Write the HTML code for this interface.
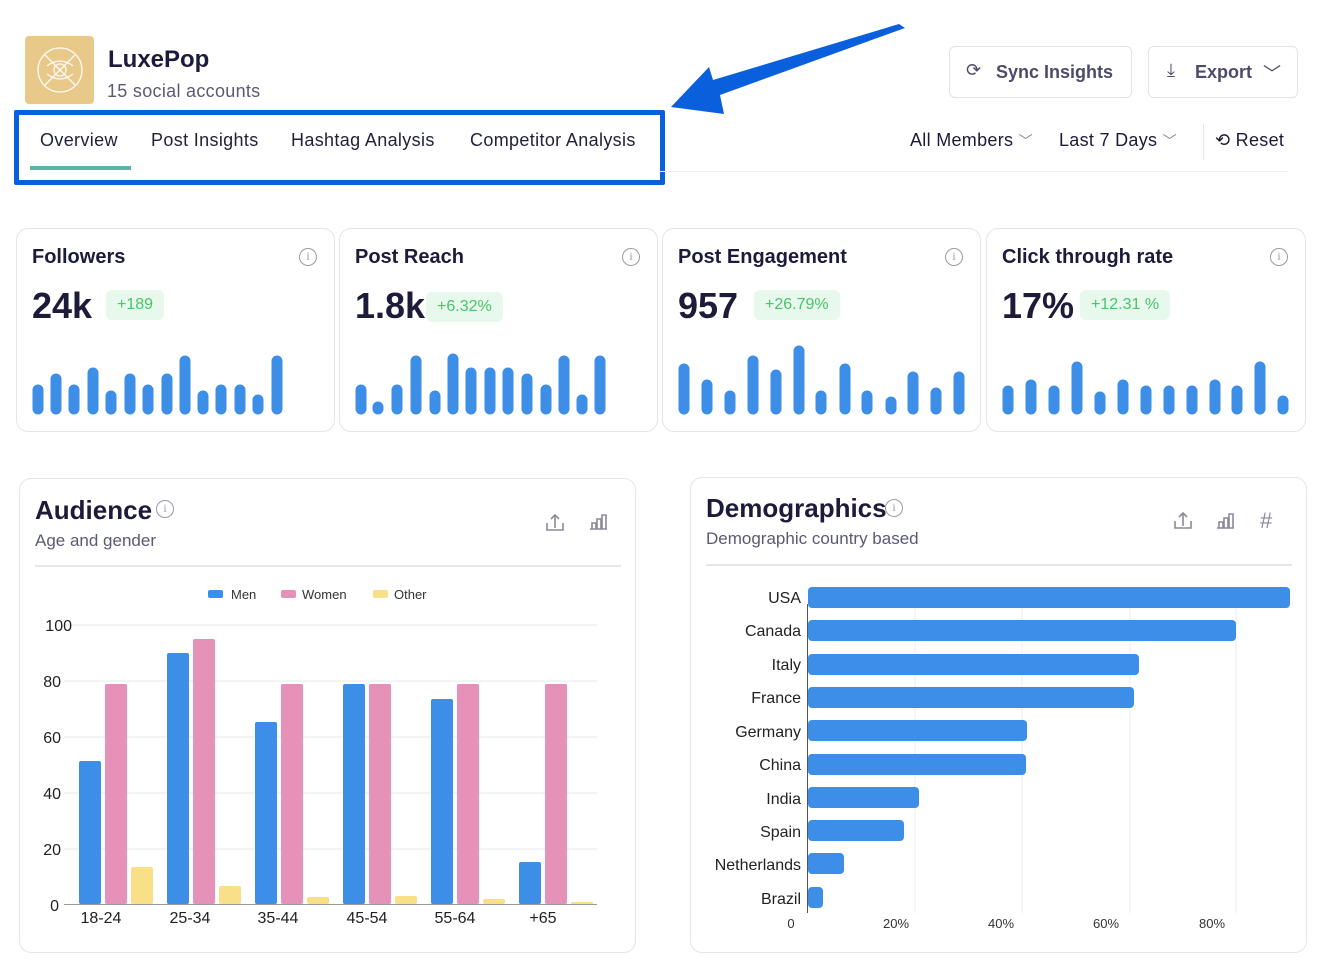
<!DOCTYPE html>
<html><head><meta charset="utf-8"><style>
*{box-sizing:border-box;margin:0;padding:0}
body{width:1335px;height:978px;background:#fff;font-family:"Liberation Sans",sans-serif;color:#1c1b3a;position:relative;overflow:hidden}
.a{position:absolute}
.card{position:absolute;border:1.5px solid #e4e5ea;border-radius:12px;background:#fff}
.btn{position:absolute;border:1.5px solid #e2e3e8;border-radius:6px;background:#fff;color:#4c4b6b;font-weight:bold;font-size:18px}
.ttl{font-weight:bold;font-size:20px;color:#1c1b3a}
.big{font-weight:bold;font-size:36px;color:#1c1b3a}
.badge{position:absolute;background:#e6f9ec;color:#4cc26a;font-size:16px;border-radius:6px;padding:6px 11px}
.info{position:absolute;width:18px;height:18px;border:1.6px solid #9a9aa8;border-radius:50%;color:#9a9aa8;font-size:12px;text-align:center;line-height:15px;font-family:"Liberation Serif",serif}
.tab{position:absolute;top:130px;font-size:18px;color:#22223a;letter-spacing:0.35px}
</style></head><body>
<div class="a" style="left:25px;top:36px;width:69px;height:68px;background:#e8c98a;border-radius:4px"></div>
<svg class="a" style="left:25px;top:36px" width="69" height="68"><g fill="none" stroke="#fff" stroke-width="1.3" opacity=".9"><circle cx="35" cy="34" r="22"/><circle cx="35" cy="34" r="6"/><path d="M20 19Q35 34 50 49M50 19Q35 34 20 49M22 30Q35 20 48 30M22 38Q35 48 48 38"/></g></svg>
<div class="a" style="left:108px;top:46px;font-size:24px;font-weight:bold">LuxePop</div>
<div class="a" style="left:107px;top:81px;font-size:18px;color:#5a5a75;letter-spacing:0.3px">15 social accounts</div>
<div class="a" style="left:14px;top:110px;width:651px;height:75px;border:5px solid #0a5fdc;border-radius:2px"></div>
<div class="tab" style="left:40px">Overview</div>
<div class="tab" style="left:151px">Post Insights</div>
<div class="tab" style="left:291px">Hashtag Analysis</div>
<div class="tab" style="left:470px">Competitor Analysis</div>
<div class="a" style="left:30px;top:166px;width:101px;height:4px;background:#5bb3a8"></div>
<div class="a" style="left:660px;top:171px;width:628px;height:1px;background:#f0f0f3"></div>
<svg class="a" style="left:0;top:0" width="1335" height="130"><polygon points="899,24 905,28 720,95 724,114 671,107 709,67 713,80" fill="#0a5fdc"/></svg>
<div class="btn" style="left:949px;top:46px;width:183px;height:52px"><span class="a" style="left:16px;top:13px;font-weight:normal">⟳</span><span class="a" style="left:46px;top:15px">Sync Insights</span></div>
<div class="btn" style="left:1148px;top:46px;width:150px;height:52px"><span class="a" style="left:18px;top:13px;font-weight:normal">⤓</span><span class="a" style="left:46px;top:15px">Export</span><span class="a" style="left:114px;top:13px;font-weight:normal">﹀</span></div>
<div class="a" style="left:910px;top:130px;font-size:18px;letter-spacing:0.3px">All Members <span style="color:#888;font-size:14px">﹀</span></div>
<div class="a" style="left:1059px;top:130px;font-size:18px;letter-spacing:0.3px">Last 7 Days <span style="color:#888;font-size:14px">﹀</span></div>
<div class="a" style="left:1203px;top:124px;width:1px;height:36px;background:#e6e6ea"></div>
<div class="a" style="left:1215px;top:130px;font-size:18px;letter-spacing:0.3px">⟲ Reset</div>

<div class="card" style="left:16px;top:228px;width:319px;height:204px"></div>
<div class="card" style="left:339px;top:228px;width:319px;height:204px"></div>
<div class="card" style="left:662px;top:228px;width:319px;height:204px"></div>
<div class="card" style="left:986px;top:228px;width:320px;height:204px"></div>
<div class="a ttl" style="left:32px;top:246px">Followers</div>
<div class="a ttl" style="left:355px;top:246px">Post Reach</div>
<div class="a ttl" style="left:678px;top:246px">Post Engagement</div>
<div class="a ttl" style="left:1002px;top:246px">Click through rate</div>
<div class="info" style="left:299px;top:248px">i</div><div class="info" style="left:622px;top:248px">i</div><div class="info" style="left:945px;top:248px">i</div><div class="info" style="left:1270px;top:248px">i</div>
<div class="a big" style="left:32px;top:285px">24k</div><div class="badge" style="left:106px;top:290px">+189</div>
<div class="a big" style="left:355px;top:285px">1.8k</div><div class="badge" style="left:426px;top:292px">+6.32%</div>
<div class="a big" style="left:678px;top:285px">957</div><div class="badge" style="left:754px;top:290px">+26.79%</div>
<div class="a big" style="left:1002px;top:285px">17%</div><div class="badge" style="left:1080px;top:290px">+12.31 %</div>
<svg class="a" style="left:0;top:0" width="1335" height="430" stroke="#3d8ee6" stroke-width="11" stroke-linecap="round">
<path d="M38 409V390M56 409V379M74 409V390M93 409V373M111 409V396M130 409V379M148 409V390M167 409V379M185 409V361M203 409V396M221 409V390M240 409V390M258 409V400M277 409V361"/>
<path d="M361 409V390M378 409V407M397 409V390M416 409V361M435 409V396M453 409V359M471 409V373M490 409V373M508 409V373M527 409V379M546 409V390M564 409V361M582 409V400M600 409V361"/>
<path d="M684 409V369M707 409V385M730 409V396M753 409V361M776 409V375M799 409V351M821 409V396M845 409V369M867 409V396M891 409V402M913 409V377M936 409V393M959 409V377"/>
<path d="M1008 409V391M1031 409V385M1054 409V391M1077 409V367M1100 409V397M1123 409V385M1146 409V391M1169 409V391M1192 409V391M1215 409V385M1237 409V391M1260 409V367M1283 409V401"/>
</svg>

<div class="card" style="left:19px;top:478px;width:617px;height:475px"></div>
<div class="a" style="left:35px;top:495px;font-size:26px;font-weight:bold">Audience</div>
<div class="info" style="left:156px;top:500px">i</div>
<div class="a" style="left:35px;top:531px;font-size:17px;color:#5a5a75">Age and gender</div>
<div class="a" style="left:35px;top:565px;width:586px;height:1.5px;background:#e6e6ea"></div>
<div class="card" style="left:690px;top:477px;width:617px;height:476px"></div>
<div class="a" style="left:706px;top:493px;font-size:26px;font-weight:bold">Demographics</div>
<div class="info" style="left:885px;top:499px">i</div>
<div class="a" style="left:706px;top:529px;font-size:17px;color:#5a5a75">Demographic country based</div>
<div class="a" style="left:1260px;top:508px;font-size:22px;color:#8a8a9a">#</div>
<div class="a" style="left:706px;top:564px;width:586px;height:1.5px;background:#e6e6ea"></div>

<svg class="a" style="left:0;top:0" width="1335" height="978" font-family="Liberation Sans,sans-serif">
<g fill="none" stroke="#8a8a9a" stroke-width="1.6"><path d="M547 523v7h16v-7M555 528v-13M551 519l4-4 4 4"/><path d="M590 529h17M592 529v-6h4v6M597 529v-10h4v10M602 529v-14h4v14"/>
<path d="M1175 521v7h16v-7M1183 526v-13M1179 517l4-4 4 4"/><path d="M1217 528h17M1219 528v-6h4v6M1224 528v-10h4v10M1229 528v-14h4v14"/></g>
<g font-size="13" fill="#333"><rect x="208" y="590" width="15" height="8" rx="2" fill="#3d8ee6"/><text x="231" y="599">Men</text>
<rect x="281" y="590" width="15" height="8" rx="2" fill="#e591b8"/><text x="302" y="599">Women</text>
<rect x="373" y="590" width="15" height="8" rx="2" fill="#f8df88"/><text x="394" y="599">Other</text></g>
<g stroke="#e8e8ec" stroke-width="1"><path d="M64 625H597M64 681H597M64 737H597M64 793H597M64 849H597"/></g>
<path d="M64 904.5H597" stroke="#999"/>
<g font-size="16" fill="#222" text-anchor="end"><text x="72" y="631">100</text><text x="61" y="687">80</text><text x="61" y="743">60</text><text x="61" y="799">40</text><text x="61" y="855">20</text><text x="59" y="911">0</text></g>
<g font-size="16" fill="#222" text-anchor="middle"><text x="101" y="923">18-24</text><text x="190" y="923">25-34</text><text x="278" y="923">35-44</text><text x="367" y="923">45-54</text><text x="455" y="923">55-64</text><text x="543" y="923">+65</text></g>
<g fill="#3d8ee6"><rect x="79" y="761" width="22" height="143" rx="2"/><rect x="167" y="653" width="22" height="251" rx="2"/><rect x="255" y="722" width="22" height="182" rx="2"/><rect x="343" y="684" width="22" height="220" rx="2"/><rect x="431" y="699" width="22" height="205" rx="2"/><rect x="519" y="862" width="22" height="42" rx="2"/></g>
<g fill="#e591b8"><rect x="105" y="684" width="22" height="220" rx="2"/><rect x="193" y="639" width="22" height="265" rx="2"/><rect x="281" y="684" width="22" height="220" rx="2"/><rect x="369" y="684" width="22" height="220" rx="2"/><rect x="457" y="684" width="22" height="220" rx="2"/><rect x="545" y="684" width="22" height="220" rx="2"/></g>
<g fill="#f8df88"><rect x="131" y="867" width="22" height="37" rx="2"/><rect x="219" y="886" width="22" height="18" rx="2"/><rect x="307" y="897" width="22" height="7" rx="2"/><rect x="395" y="896" width="22" height="8" rx="2"/><rect x="483" y="899" width="22" height="5" rx="2"/><rect x="571" y="902" width="22" height="2"/></g>

<g stroke="#ececf0"><path d="M915 604V913M1022 604V913M1130 604V913M1236 604V913"/></g>
<path d="M807.5 604V913" stroke="#555"/>
<g fill="#3d8ee6"><rect x="808" y="587" width="482" height="21" rx="4"/><rect x="808" y="620" width="428" height="21" rx="4"/><rect x="808" y="654" width="331" height="21" rx="4"/><rect x="808" y="687" width="326" height="21" rx="4"/><rect x="808" y="720" width="219" height="21" rx="4"/><rect x="808" y="754" width="218" height="21" rx="4"/><rect x="808" y="787" width="111" height="21" rx="4"/><rect x="808" y="820" width="96" height="21" rx="4"/><rect x="808" y="853" width="36" height="21" rx="4"/><rect x="808" y="887" width="15" height="21" rx="4"/></g>
<g font-size="16" fill="#222" text-anchor="end"><text x="801" y="603">USA</text><text x="801" y="636">Canada</text><text x="801" y="670">Italy</text><text x="801" y="703">France</text><text x="801" y="737">Germany</text><text x="801" y="770">China</text><text x="801" y="804">India</text><text x="801" y="837">Spain</text><text x="801" y="870">Netherlands</text><text x="801" y="904">Brazil</text></g>
<g font-size="13" fill="#333" text-anchor="middle"><text x="791" y="928">0</text><text x="896" y="928">20%</text><text x="1001" y="928">40%</text><text x="1106" y="928">60%</text><text x="1212" y="928">80%</text></g>
</svg>
</body></html>
